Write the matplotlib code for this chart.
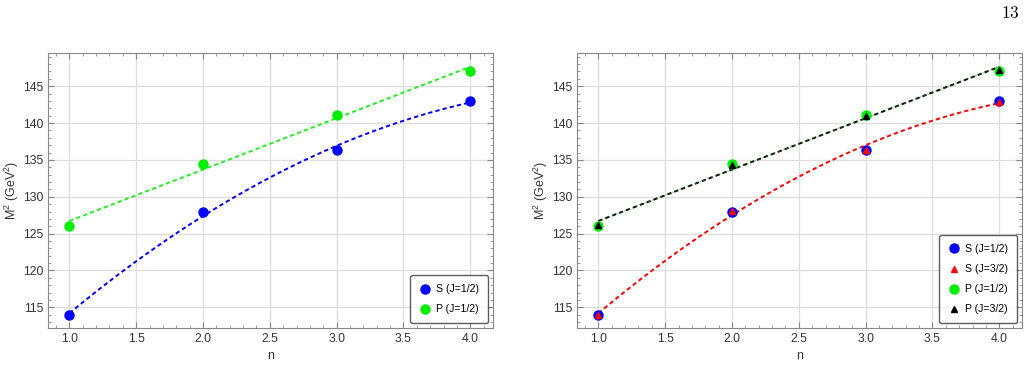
import numpy as np
import matplotlib.pyplot as plt

plt.rcParams['font.family'] = ['Liberation Sans', 'DejaVu Sans']
plt.rcParams['mathtext.fontset'] = 'custom'
plt.rcParams['mathtext.rm'] = 'Liberation Sans'

# data
n = np.array([1, 2, 3, 4])
S_half = [114.0, 128.0, 136.3, 143.0]
S_3half = [114.0, 128.1, 136.4, 142.9]
P_half = [126.1, 134.4, 141.1, 147.1]
P_3half = [126.2, 134.3, 141.0, 147.2]

nfine = np.linspace(1, 4, 200)


def fit_curve(y, deg):
    return np.polyval(np.polyfit(n, y, deg), nfine)


def style_axes(ax):
    ax.set_xlim(0.84, 4.17)
    ax.set_ylim(112.2, 149.5)
    ax.set_xticks([1.0, 1.5, 2.0, 2.5, 3.0, 3.5, 4.0])
    ax.set_yticks([115, 120, 125, 130, 135, 140, 145])
    ax.set_xticks(np.arange(0.9, 4.15, 0.1), minor=True)
    ax.set_yticks(np.arange(113, 149.5, 1), minor=True)
    ax.xaxis.set_major_formatter(plt.FormatStrFormatter('%.1f'))
    ax.tick_params(which='both', direction='in', top=True, right=True,
                   color='#888888', labelcolor='#333333', labelsize=8.8)
    ax.tick_params(which='major', length=4)
    ax.tick_params(which='minor', length=2)
    ax.grid(True, color='#dddddd', linewidth=0.9)
    ax.set_axisbelow(True)
    for s in ax.spines.values():
        s.set_color('#888888')
    ax.set_xlabel('n', fontsize=9, color='#333333')
    ax.set_ylabel(r'M$^2$ (GeV$^2$)', fontsize=9, color='#333333', labelpad=1)


def add_legend(ax):
    leg = ax.legend(loc='lower right', fontsize=7.6, frameon=True, fancybox=True,
                    edgecolor='#333333', handletextpad=0.6, borderpad=0.85,
                    labelspacing=0.95, handlelength=1.0, borderaxespad=0.45)
    leg.get_frame().set_linewidth(1.0)


fig = plt.figure(figsize=(10.28, 3.66), dpi=100)
ax1 = fig.add_axes([48/1028, 1 - 328/366, 445/1028, 275/366])
ax2 = fig.add_axes([577/1028, 1 - 328/366, 445/1028, 275/366])

dash = (0, (2.2, 1.6))

# left panel
ax1.plot(nfine, fit_curve(S_half, 2), color='blue', ls=dash, lw=1.4)
ax1.plot(nfine, fit_curve(P_half, 1), color='#22ee22', ls=dash, lw=1.4)
ax1.plot(n, S_half, 'o', color='blue', ms=6.5, label='S (J=1/2)')
ax1.plot(n, P_half, 'o', color='#00ee00', ms=6.5, label='P (J=1/2)')
style_axes(ax1)
add_legend(ax1)

# right panel
ax2.plot(nfine, fit_curve(S_3half, 2), color='red', ls=dash, lw=1.4)
ax2.plot(nfine, fit_curve(P_3half, 1), color='black', ls=dash, lw=1.4)
ax2.plot(nfine, fit_curve(P_half, 1), color='#22aa22', ls=(1.9, (2.2, 1.6)), lw=0.8, alpha=0.5)
ax2.plot(n, S_half, 'o', color='blue', ms=6.5, label='S (J=1/2)')
ax2.plot(n, S_3half, '^', color='red', ms=5, label='S (J=3/2)')
ax2.plot(n, P_half, 'o', color='#00ee00', ms=6.5, label='P (J=1/2)')
ax2.plot(n, P_3half, '^', color='black', ms=5, label='P (J=3/2)')
style_axes(ax2)
add_legend(ax2)

fig.text(1010/1028, 1 - 13/366, r'$\mathrm{13}$', fontsize=12.5, math_fontfamily='cm',
         ha='center', va='center')

fig.savefig('out.png', dpi=100)
